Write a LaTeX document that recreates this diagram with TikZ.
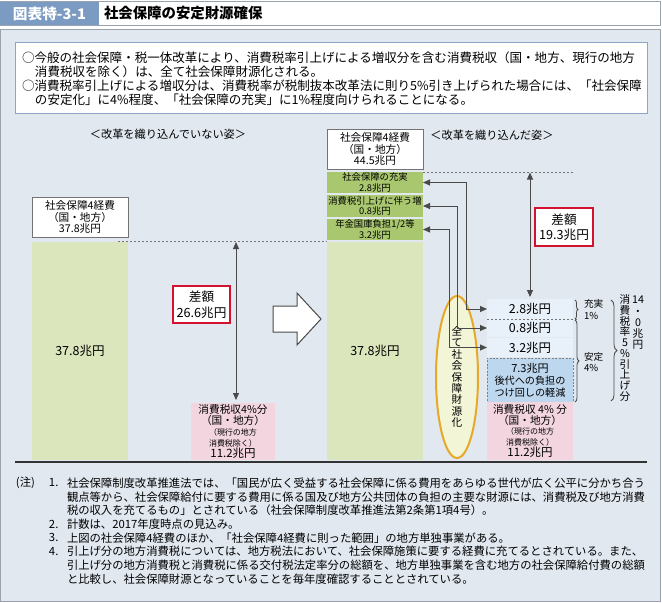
\documentclass[tikz,border=0pt]{standalone}
\usepackage{fontspec}
\setmainfont{Noto Sans CJK JP}
\usetikzlibrary{arrows.meta,decorations.pathreplacing,shapes.geometric}
\newlength\px
\setlength\px{0.75pt}
\definecolor{panelbg}{HTML}{E1E8F0}
\definecolor{panelline}{HTML}{9AA3AD}
\definecolor{tabblue}{HTML}{7C9BC2}
\definecolor{boxblue}{HTML}{8CA6C8}
\definecolor{lgreen}{HTML}{DCE6BC}
\definecolor{dgreen}{HTML}{A9C76F}
\definecolor{lpink}{HTML}{F2D5DF}
\definecolor{lblue}{HTML}{E8F0F9}
\definecolor{mblue}{HTML}{BDD7EE}
\definecolor{eyellow}{HTML}{F3F5D7}
\definecolor{eorange}{HTML}{E6A92A}
\definecolor{sred}{HTML}{D2122E}
\definecolor{lineg}{HTML}{4A4A4A}
\newcommand{\myfs}[2]{\fontsize{#1}{#2}\selectfont}
\begin{document}
\begin{tikzpicture}[x=0.75pt,y=-0.75pt,
  every node/.style={inner sep=0pt, outer sep=0pt},
  rbox/.style args={#1/#2}{minimum width=#1\px, minimum height=#2\px, align=center},
  wbox/.style={draw=black!55, fill=white, line width=0.6pt},
  gbar/.style={fill=lgreen},
  gbox/.style={fill=dgreen},
  pbox/.style={fill=lpink},
  redbox/.style={draw=sred, fill=white, line width=1.2pt},
  sbox/.style={fill=lblue},
  dtip/.style={{Triangle[length=5.25pt,width=4.5pt]}-{Triangle[length=5.25pt,width=4.5pt]}},
  conn/.style={draw=lineg, line width=0.75pt},
  guide/.style={draw=black!55, line width=0.5pt, dash pattern=on 1.5pt off 1.5pt},
  txt/.style={anchor=west, font=\myfs{9.4}{11}},
  note/.style={anchor=west, font=\myfs{8.5}{10}},
  bracestyle/.style={draw=lineg, line width=0.6pt, decorate},
]
\useasboundingbox (0,0) rectangle (662,603);
\fill[white] (0,0) rectangle (662,603);
% title
\node[draw=panelline, fill=white, rbox=660/24, line width=0.6pt] (titlebar) at (330.5,13) {};
\node[fill=tabblue, rbox=99/23, text=white, font=\bfseries\myfs{11}{12}] (tab) at (49.5,13.5) {図表特-3-1};
\node[anchor=west, font=\bfseries\myfs{10.8}{12}] (title) at (104,13) {社会保障の安定財源確保};
% panel
\node[draw=panelline, fill=panelbg, rbox=660/572, line width=0.6pt] (panel) at (330.5,315) {};
% summary box
\node[draw=boxblue, fill=white, line width=0.75pt, rbox=632/71] (tbox) at (331,77.5) {};
\node[txt] (t1) at (22,58) {○今般の社会保障・税一体改革により、消費税率引上げによる増収分を含む消費税収（国・地方、現行の地方};
\node[txt] (t2) at (35,71.5) {消費税収を除く）は、全て社会保障財源化される。};
\node[txt] (t3) at (22,86) {○消費税率引上げによる増収分は、消費税率が税制抜本改革法に則り5\%引き上げられた場合には、「社会保障};
\node[txt] (t4) at (35,100) {の安定化」に4\%程度、「社会保障の充実」に1\%程度向けられることになる。};
% headings
\node[font=\myfs{8.4}{10}] (h1) at (168,134) {＜改革を織り込んでいない姿＞};
\node[font=\myfs{8.4}{10}] (h2) at (492,135) {＜改革を織り込んだ姿＞};
% left side
\node[wbox, rbox=96/40, font=\myfs{8}{8.6}] (lbox) at (80,217) {社会保障4経費\\（国・地方）\\37.8兆円};
\node[gbar, rbox=96/218, font=\myfs{9.4}{11}] (lbar) at (80,351) {37.8兆円};
\draw[guide] (118,241.5) -- (327,241.5);
\node[redbox, rbox=57/37, font=\myfs{9.5}{12}] (diff1) at (201.5,304.5) {差額\\26.6兆円};
\node[pbox, rbox=84/57, font=\myfs{8}{8.1}] (lpink) at (233,431.5) {消費税収4\%分\\（国・地方）\\{\myfs{6}{8.1}（現行の地方}\\{\myfs{6}{8.1}消費税除く）}\\{\myfs{8.6}{8.1}11.2兆円}};
\coordinate (la) at (236,242);
\draw[conn, dtip, shorten >=2.25pt] (la) -- (la |- lpink.north);
% block arrow
\draw[draw=lineg, fill=white, line width=0.75pt] (273,306) -- (297,306) -- (297,293) -- (321,319) -- (297,345) -- (297,332) -- (273,332) -- cycle;
% right side
\node[wbox, rbox=96/40, font=\myfs{8}{8.6}] (rtop) at (375,149) {社会保障4経費\\（国・地方）\\44.5兆円};
\node[gbox, rbox=96/21, font=\myfs{7}{8.2}] (ga) at (375,182.5) {社会保障の充実\\2.8兆円};
\node[gbox, rbox=96/22, font=\myfs{7}{8.2}] (gb) at (375,206) {消費税引上げに伴う増\\0.8兆円};
\node[gbox, rbox=96/21, font=\myfs{7}{8.2}] (gc) at (375,229.5) {年金国庫負担1/2等\\3.2兆円};
\node[gbar, rbox=96/218, font=\myfs{9.4}{11}] (rbar) at (375,351) {37.8兆円};
\draw[guide] (423,172) -- (573,172);
\node[redbox, rbox=58/38, font=\myfs{9.5}{11.25}] (diff2) at (564,227) {差額\\19.3兆円};
% ellipse
\node[ellipse, draw=eorange, fill=eyellow, line width=1.5pt, minimum width=42\px, minimum height=162\px, align=center, font=\myfs{8}{8.55}] (ell) at (457,377) {全\\て\\社\\会\\保\\障\\財\\源\\化};
% stack
\node[sbox, rbox=86/20, font=\myfs{9.3}{11}] (s1) at (530,309) {2.8兆円};
\node[sbox, rbox=86/18, font=\myfs{9.3}{11}] (s2) at (530,328) {0.8兆円};
\node[sbox, rbox=86/19, font=\myfs{9.3}{11}] (s3) at (530,347.5) {3.2兆円};
\node[fill=mblue, draw=black!50, dash pattern=on 1.5pt off 1.1pt, line width=0.5pt, rbox=86/44, font=\myfs{7.6}{9}] (s4) at (530,380) {{\myfs{8.3}{9}7.3兆円}\\後代への負担の\\つけ回しの軽減};
\node[pbox, rbox=86/58, font=\myfs{8}{8.1}] (rpink) at (530,431) {消費税収 4\% 分\\（国・地方）\\{\myfs{6}{8.1}（現行の地方}\\{\myfs{6}{8.1}消費税除く）}\\{\myfs{8.6}{8.1}11.2兆円}};
\draw[guide] (487,319) -- (578,319);
\coordinate (ra) at (530,172.5);
\draw[conn, dtip, shorten >=1.5pt] (ra) -- (ra |- s1.north);
% elbow connectors
\coordinate (j1) at (466,309);
\coordinate (j2) at (457,328);
\coordinate (j3) at (449,347.5);
\draw[conn, dtip] (ga.east) -| (j1) -- (s1.west);
\draw[conn, dtip] (gb.east) -| (j2) -- (s2.west);
\draw[conn, dtip] (gc.east) -| (j3) -- (s3.west);
% braces
\coordinate (b1a) at (575,300); \coordinate (b1b) at (575,319);
\coordinate (b2a) at (575,320); \coordinate (b2b) at (575,402);
\coordinate (b3a) at (611,300); \coordinate (b3b) at (611,401);
\draw[bracestyle, decoration={brace, amplitude=2.25pt}] (b1a) -- (b1b);
\draw[bracestyle, decoration={brace, amplitude=3pt}] (b2a) -- (b2b);
\draw[bracestyle, decoration={brace, amplitude=4.5pt}] (b3a) -- (b3b);
\node[anchor=west, align=left, font=\myfs{7.2}{9}] (l1) at (584,310) {充実\\1\%};
\node[anchor=west, align=left, font=\myfs{7.2}{8.2}] (l2) at (584,362) {安定\\4\%};
\node[align=center, font=\myfs{8}{8.05}] (v1) at (625,348) {消\\費\\税\\率\\5\\\%\\引\\上\\げ\\分};
\node[align=center, font=\myfs{8}{8.4}] (v2) at (638,323) {14\\・\\0\\兆\\円};
% baseline
\draw[draw=black!80, line width=1.5pt] (15,462) -- (647,462);
% notes
\node[note] (n0) at (16,483) {(注)};
\node[note] (n1) at (49,483) {1.};
\node[note] (n1a) at (67,483) {社会保障制度改革推進法では、「国民が広く受益する社会保障に係る費用をあらゆる世代が広く公平に分かち合う};
\node[note] (n1b) at (67,496.7) {観点等から、社会保障給付に要する費用に係る国及び地方公共団体の負担の主要な財源には、消費税及び地方消費};
\node[note] (n1c) at (67,510.4) {税の収入を充てるもの」とされている（社会保障制度改革推進法第2条第1項4号）。};
\node[note] (n2) at (49,524.1) {2.};
\node[note] (n2a) at (67,524.1) {計数は、2017年度時点の見込み。};
\node[note] (n3) at (49,537.8) {3.};
\node[note] (n3a) at (67,537.8) {上図の社会保障4経費のほか、「社会保障4経費に則った範囲」の地方単独事業がある。};
\node[note] (n4) at (49,551.5) {4.};
\node[note] (n4a) at (67,551.5) {引上げ分の地方消費税については、地方税法において、社会保障施策に要する経費に充てるとされている。また、};
\node[note] (n4b) at (67,565.2) {引上げ分の地方消費税と消費税に係る交付税法定率分の総額を、地方単独事業を含む地方の社会保障給付費の総額};
\node[note] (n4c) at (67,578.9) {と比較し、社会保障財源となっていることを毎年度確認することとされている。};
\end{tikzpicture}
\end{document}
